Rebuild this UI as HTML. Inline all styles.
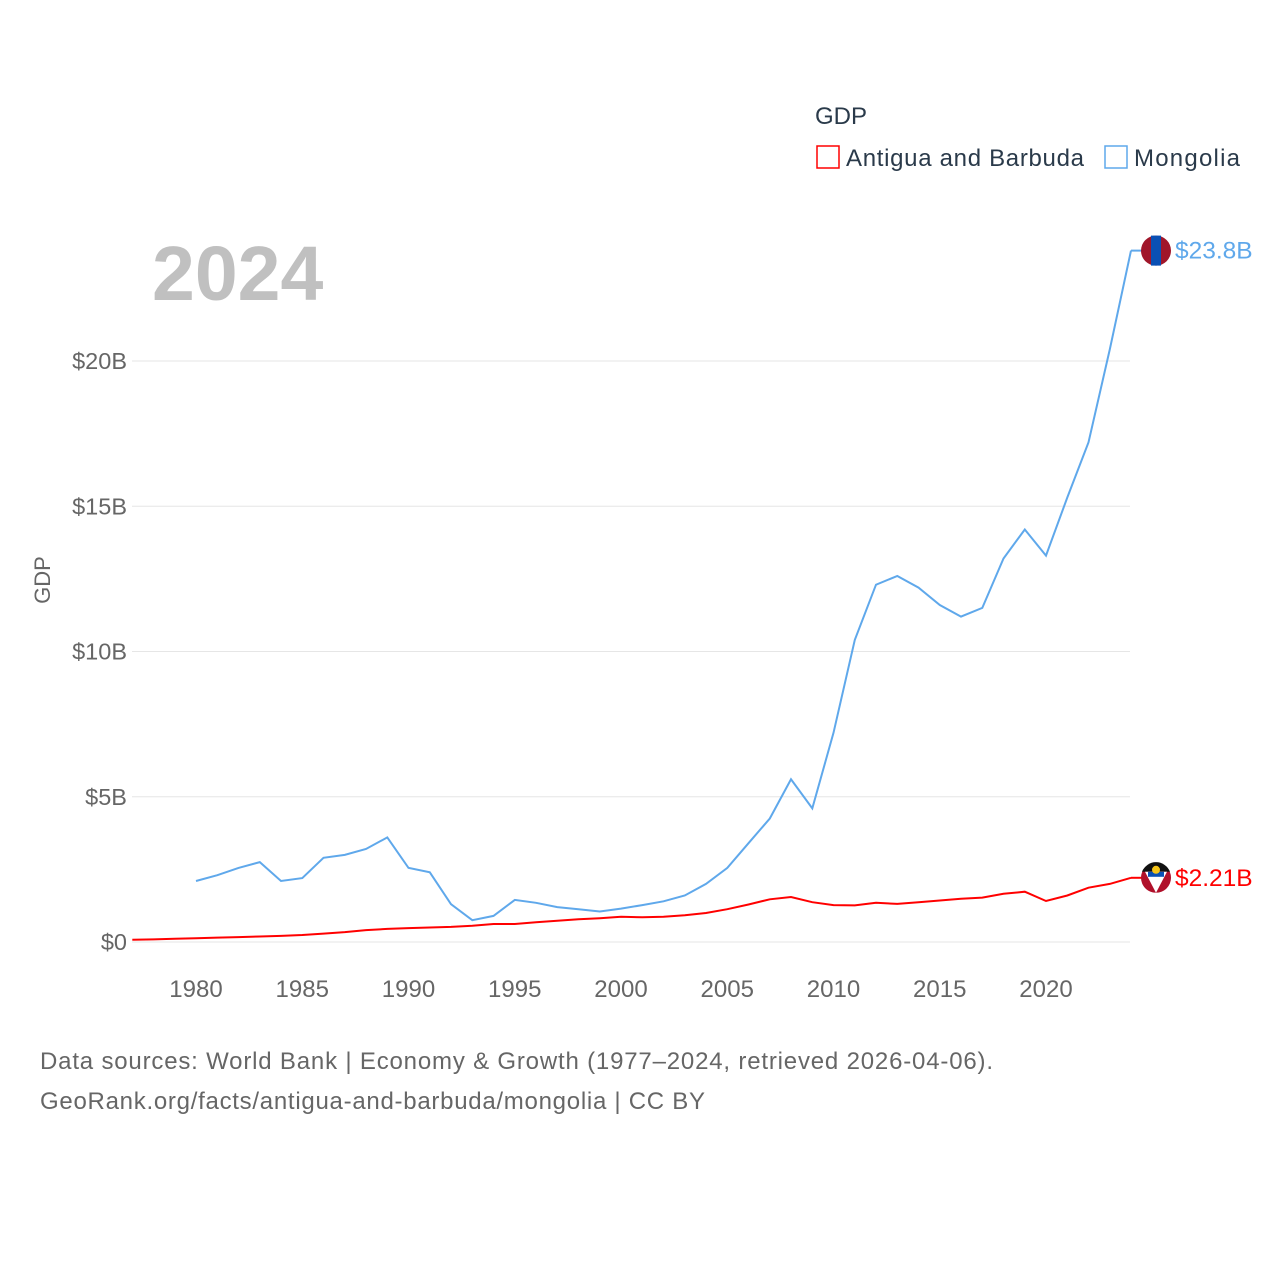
<!DOCTYPE html>
<html><head><meta charset="utf-8"><style>
body{margin:0;background:#fff;font-family:"Liberation Sans",sans-serif;}
</style></head><body>
<svg id="chart" width="1280" height="1280" xmlns="http://www.w3.org/2000/svg">
<g id="grid"></g><g id="axes"></g><g id="series"></g>
<text x="152" y="300" font-size="77" font-weight="bold" fill="#c0c0c0">2024</text>
<text x="50" y="580" font-size="22" fill="#666" transform="rotate(-90 50 580)" text-anchor="middle">GDP</text>
<text x="815" y="124" font-size="24" fill="#2a3a4a">GDP</text>
<g><rect x="817" y="146" width="22" height="22" fill="none" stroke="#ff0000" stroke-width="1.5"/><text x="846" y="166" font-size="24" fill="#2a3a4a" textLength="238">Antigua and Barbuda</text></g>
<g><rect x="1105" y="146" width="22" height="22" fill="none" stroke="#5fa8eb" stroke-width="1.5"/><text x="1134" y="166" font-size="24" fill="#2a3a4a" textLength="106">Mongolia</text></g>
<text x="40" y="1069" font-size="24" fill="#666" textLength="953">Data sources: World Bank | Economy &amp; Growth (1977–2024, retrieved 2026-04-06).</text>
<text x="40" y="1109" font-size="24" fill="#666" textLength="665">GeoRank.org/facts/antigua-and-barbuda/mongolia | CC BY</text>
</svg>
<script>
const years=[];for(let y=1977;y<=2024;y++)years.push(y);
const mongoliaYears=years.filter(y=>y>=1980);
const mongolia=[2.1,2.3,2.55,2.75,2.1,2.2,2.9,3.0,3.2,3.6,2.55,2.4,1.3,0.75,0.9,1.45,1.35,1.2,1.13,1.05,1.15,1.27,1.4,1.6,2.0,2.55,3.4,4.25,5.6,4.6,7.2,10.4,12.3,12.6,12.2,11.6,11.2,11.5,13.2,14.2,13.3,15.3,17.2,20.4,23.8];
const antigua=[0.08,0.09,0.11,0.13,0.15,0.17,0.19,0.21,0.24,0.29,0.34,0.41,0.45,0.48,0.50,0.52,0.56,0.62,0.62,0.68,0.73,0.78,0.82,0.87,0.85,0.87,0.92,1.0,1.13,1.29,1.47,1.55,1.37,1.27,1.26,1.35,1.31,1.37,1.43,1.49,1.53,1.66,1.73,1.41,1.60,1.87,2.00,2.21];
const yTicks=[0,5,10,15,20];const yTickLabels=["$0","$5B","$10B","$15B","$20B"];
const xTicks=[1980,1985,1990,1995,2000,2005,2010,2015,2020];
const X=y=>132.25+(y-1977)*21.25, Y=v=>942-v*29.05;
const NS="http://www.w3.org/2000/svg";
function mk(t,a,p){const e=document.createElementNS(NS,t);for(const k in a)e.setAttribute(k,a[k]);p.appendChild(e);return e;}
const grid=document.getElementById('grid'),axes=document.getElementById('axes'),ser=document.getElementById('series');
yTicks.forEach((v,i)=>{const l=mk('line',{x1:132,x2:1130,y1:Y(v),y2:Y(v),stroke:'#e6e6e6'},grid);


const t=mk('text',{x:127,y:Y(v)+8,'text-anchor':'end','font-size':23.5,fill:'#666'},axes);t.textContent=yTickLabels[i];

});
xTicks.forEach(v=>{const t=mk('text',{x:X(v),y:997,'text-anchor':'middle','font-size':24,fill:'#666'},axes);t.textContent=v;

});
function line(xs,vals,c,name){const d=vals.map((v,i)=>(i?'L':'M')+X(xs[i]).toFixed(1)+','+Y(v).toFixed(1)).join('');
const p=mk('path',{d:d,fill:'none',stroke:c,'stroke-width':2},ser);

}
line(mongoliaYears,mongolia,'#5fa8eb','mongolia-line');
line(years,antigua,'#ff0000','antigua-line');
function end(v,c,label,name,kind){const x=X(2024),y=Y(v);
mk('line',{x1:x,x2:x+12,y1:y,y2:y,stroke:c,'stroke-width':2},ser);
const g=mk('g',{},ser);


if(kind==='mn'){mk('circle',{cx:x+25,cy:y,r:15,fill:'#a0162a'},g);mk('rect',{x:x+20,y:y-15,width:10,height:30,fill:'#0a50b4'},g);}
else{mk('circle',{cx:x+25,cy:y,r:15,fill:'#b0102a'},g);mk('path',{d:`M${x+11},${y-6} A15,15 0 0 1 ${x+39},${y-6} Z`,fill:'#111'},g);
mk('path',{d:`M${x+14},${y-6} L${x+36},${y-6} L${x+25},${y+15} Z`,fill:'#fff'},g);
mk('rect',{x:x+17,y:y-6,width:16,height:5,fill:'#0a50b4'},g);mk('circle',{cx:x+25,cy:y-8,r:4,fill:'#f5c518'},g);}
const t=mk('text',{x:x+44,y:y+8,'font-size':24.5,fill:c},g);t.textContent=label;}
end(mongolia[mongolia.length-1],'#5fa8eb','$23.8B','mongolia-end-label','mn');
end(antigua[antigua.length-1],'#ff0000','$2.21B','antigua-end-label','ag');
</script>
</body></html>
